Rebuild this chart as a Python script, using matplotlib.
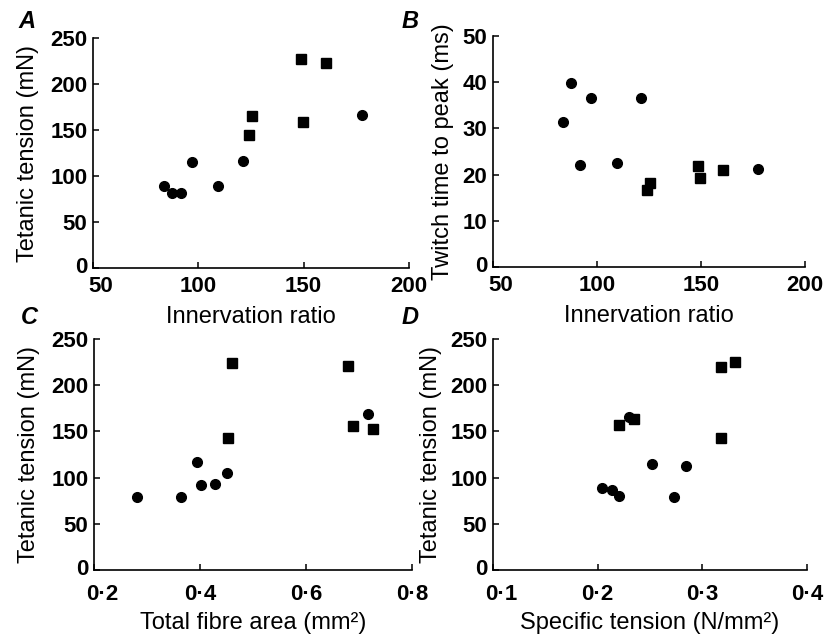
import numpy as np
import matplotlib
matplotlib.use('Agg')
import matplotlib.pyplot as plt
import matplotlib.transforms as mtrans

plt.rcParams['font.family'] = ['Liberation Sans', 'DejaVu Sans']

# innervation ratio (circles = one group, squares = other group)
ir_circ = [83.5, 87.5, 92, 97, 109.5, 121, 177.5]
ir_sq = [124, 125.5, 148.5, 149.5, 160.5]

# panel A: tetanic tension (mN)
tet_circ_A = [89, 81, 81, 115, 89, 116, 166]
tet_sq_A = [144.5, 165.5, 227.5, 158.5, 222.5]

# panel B: twitch time to peak (ms)
ttp_circ = [31.3, 39.9, 22.0, 36.5, 22.5, 36.6, 21.3]
ttp_sq = [16.6, 18.1, 21.9, 19.3, 21.0]

# panel C: total fibre area (mm2) vs tetanic tension
area_circ = [0.281, 0.365, 0.394, 0.402, 0.428, 0.451, 0.717]
tet_circ_C = [79, 79.5, 117, 92, 93, 105.5, 168.5]
area_sq = [0.452, 0.461, 0.679, 0.689, 0.727]
tet_sq_C = [142.5, 223.5, 220.5, 155.5, 153]

# panel D: specific tension (N/mm2) vs tetanic tension
spec_circ = [0.2045, 0.2135, 0.220, 0.230, 0.252, 0.273, 0.284]
tet_circ_D = [88.5, 87, 80.5, 166, 115, 79.5, 113]
spec_sq = [0.220, 0.235, 0.318, 0.318, 0.331]
tet_sq_D = [156.5, 163, 142.5, 219.5, 225]

ir_ticks = [50, 100, 150, 200]
area_ticks = [0.2, 0.4, 0.6, 0.8]
area_labels = ['0·2', '0·4', '0·6', '0·8']
spec_ticks = [0.1, 0.2, 0.3, 0.4]
spec_labels = ['0·1', '0·2', '0·3', '0·4']
tens_ticks = [0, 50, 100, 150, 200, 250]
ttp_ticks = [0, 10, 20, 30, 40, 50]

W, H = 826, 636
fig = plt.figure(figsize=(W / 100, H / 100), dpi=100)


def px_axes(left, top, right, bottom):
    return fig.add_axes([left / W, 1 - bottom / H, (right - left) / W, (bottom - top) / H])


def style(ax, xticks, yticks, xlabels=None, xpad=6):
    for s in ['top', 'right']:
        ax.spines[s].set_visible(False)
    for s in ['left', 'bottom']:
        ax.spines[s].set_linewidth(1.2)
    ax.set_xticks(xticks)
    if xlabels is not None:
        ax.set_xticklabels(xlabels)
    ax.set_yticks(yticks)
    ax.set_xlim(xticks[0], xticks[-1])
    ax.set_ylim(yticks[0], yticks[-1])
    ax.tick_params(direction='in', length=4, width=1.1, labelsize=16)
    ax.tick_params(axis='x', pad=xpad)
    ax.tick_params(axis='y', pad=4)
    for lab in ax.get_xticklabels() + ax.get_yticklabels():
        lab.set_fontweight('bold')
    # nudge the corner labels apart like in the print
    xl = ax.get_xticklabels()[0]
    xl.set_transform(xl.get_transform() + mtrans.ScaledTranslation(8 / 100, 0, fig.dpi_scale_trans))
    yl = ax.get_yticklabels()[0]
    yl.set_transform(yl.get_transform() + mtrans.ScaledTranslation(0, 3 / 100, fig.dpi_scale_trans))


def points(ax, xc, yc, xs, ys):
    ax.plot(xc, yc, 'o', color='black', markersize=7, clip_on=False)
    ax.plot(xs, ys, 's', color='black', markersize=6.5, clip_on=False)


axA = px_axes(93, 38, 409, 268)
points(axA, ir_circ, tet_circ_A, ir_sq, tet_sq_A)
style(axA, ir_ticks, tens_ticks)
axA.set_xlabel('Innervation ratio', fontsize=17, labelpad=6)
axA.set_ylabel('Tetanic tension (mN)', fontsize=17, labelpad=8)

axB = px_axes(493, 36, 805, 267)
points(axB, ir_circ, ttp_circ, ir_sq, ttp_sq)
style(axB, ir_ticks, ttp_ticks)
axB.set_xlabel('Innervation ratio', fontsize=17, labelpad=6)
axB.set_ylabel('Twitch time to peak (ms)', fontsize=17, labelpad=6)

axC = px_axes(94, 339, 412, 570)
points(axC, area_circ, tet_circ_C, area_sq, tet_sq_C)
style(axC, area_ticks, tens_ticks, area_labels, xpad=10)
axC.set_xlabel('Total fibre area (mm²)', fontsize=17, labelpad=5)
axC.set_ylabel('Tetanic tension (mN)', fontsize=17, labelpad=8)

axD = px_axes(493, 339, 807, 570)
points(axD, spec_circ, tet_circ_D, spec_sq, tet_sq_D)
style(axD, spec_ticks, tens_ticks, spec_labels, xpad=10)
axD.set_xlabel('Specific tension (N/mm²)', fontsize=17, labelpad=5)
axD.set_ylabel('Tetanic tension (mN)', fontsize=17, labelpad=6)

for lab, x, y in [('A', 27, 22), ('B', 410, 22), ('C', 29, 318), ('D', 410, 318)]:
    fig.text(x / W, 1 - y / H, lab, fontsize=17, fontweight='bold', fontstyle='italic',
             ha='center', va='center')

fig.savefig('out.png', dpi=100)
